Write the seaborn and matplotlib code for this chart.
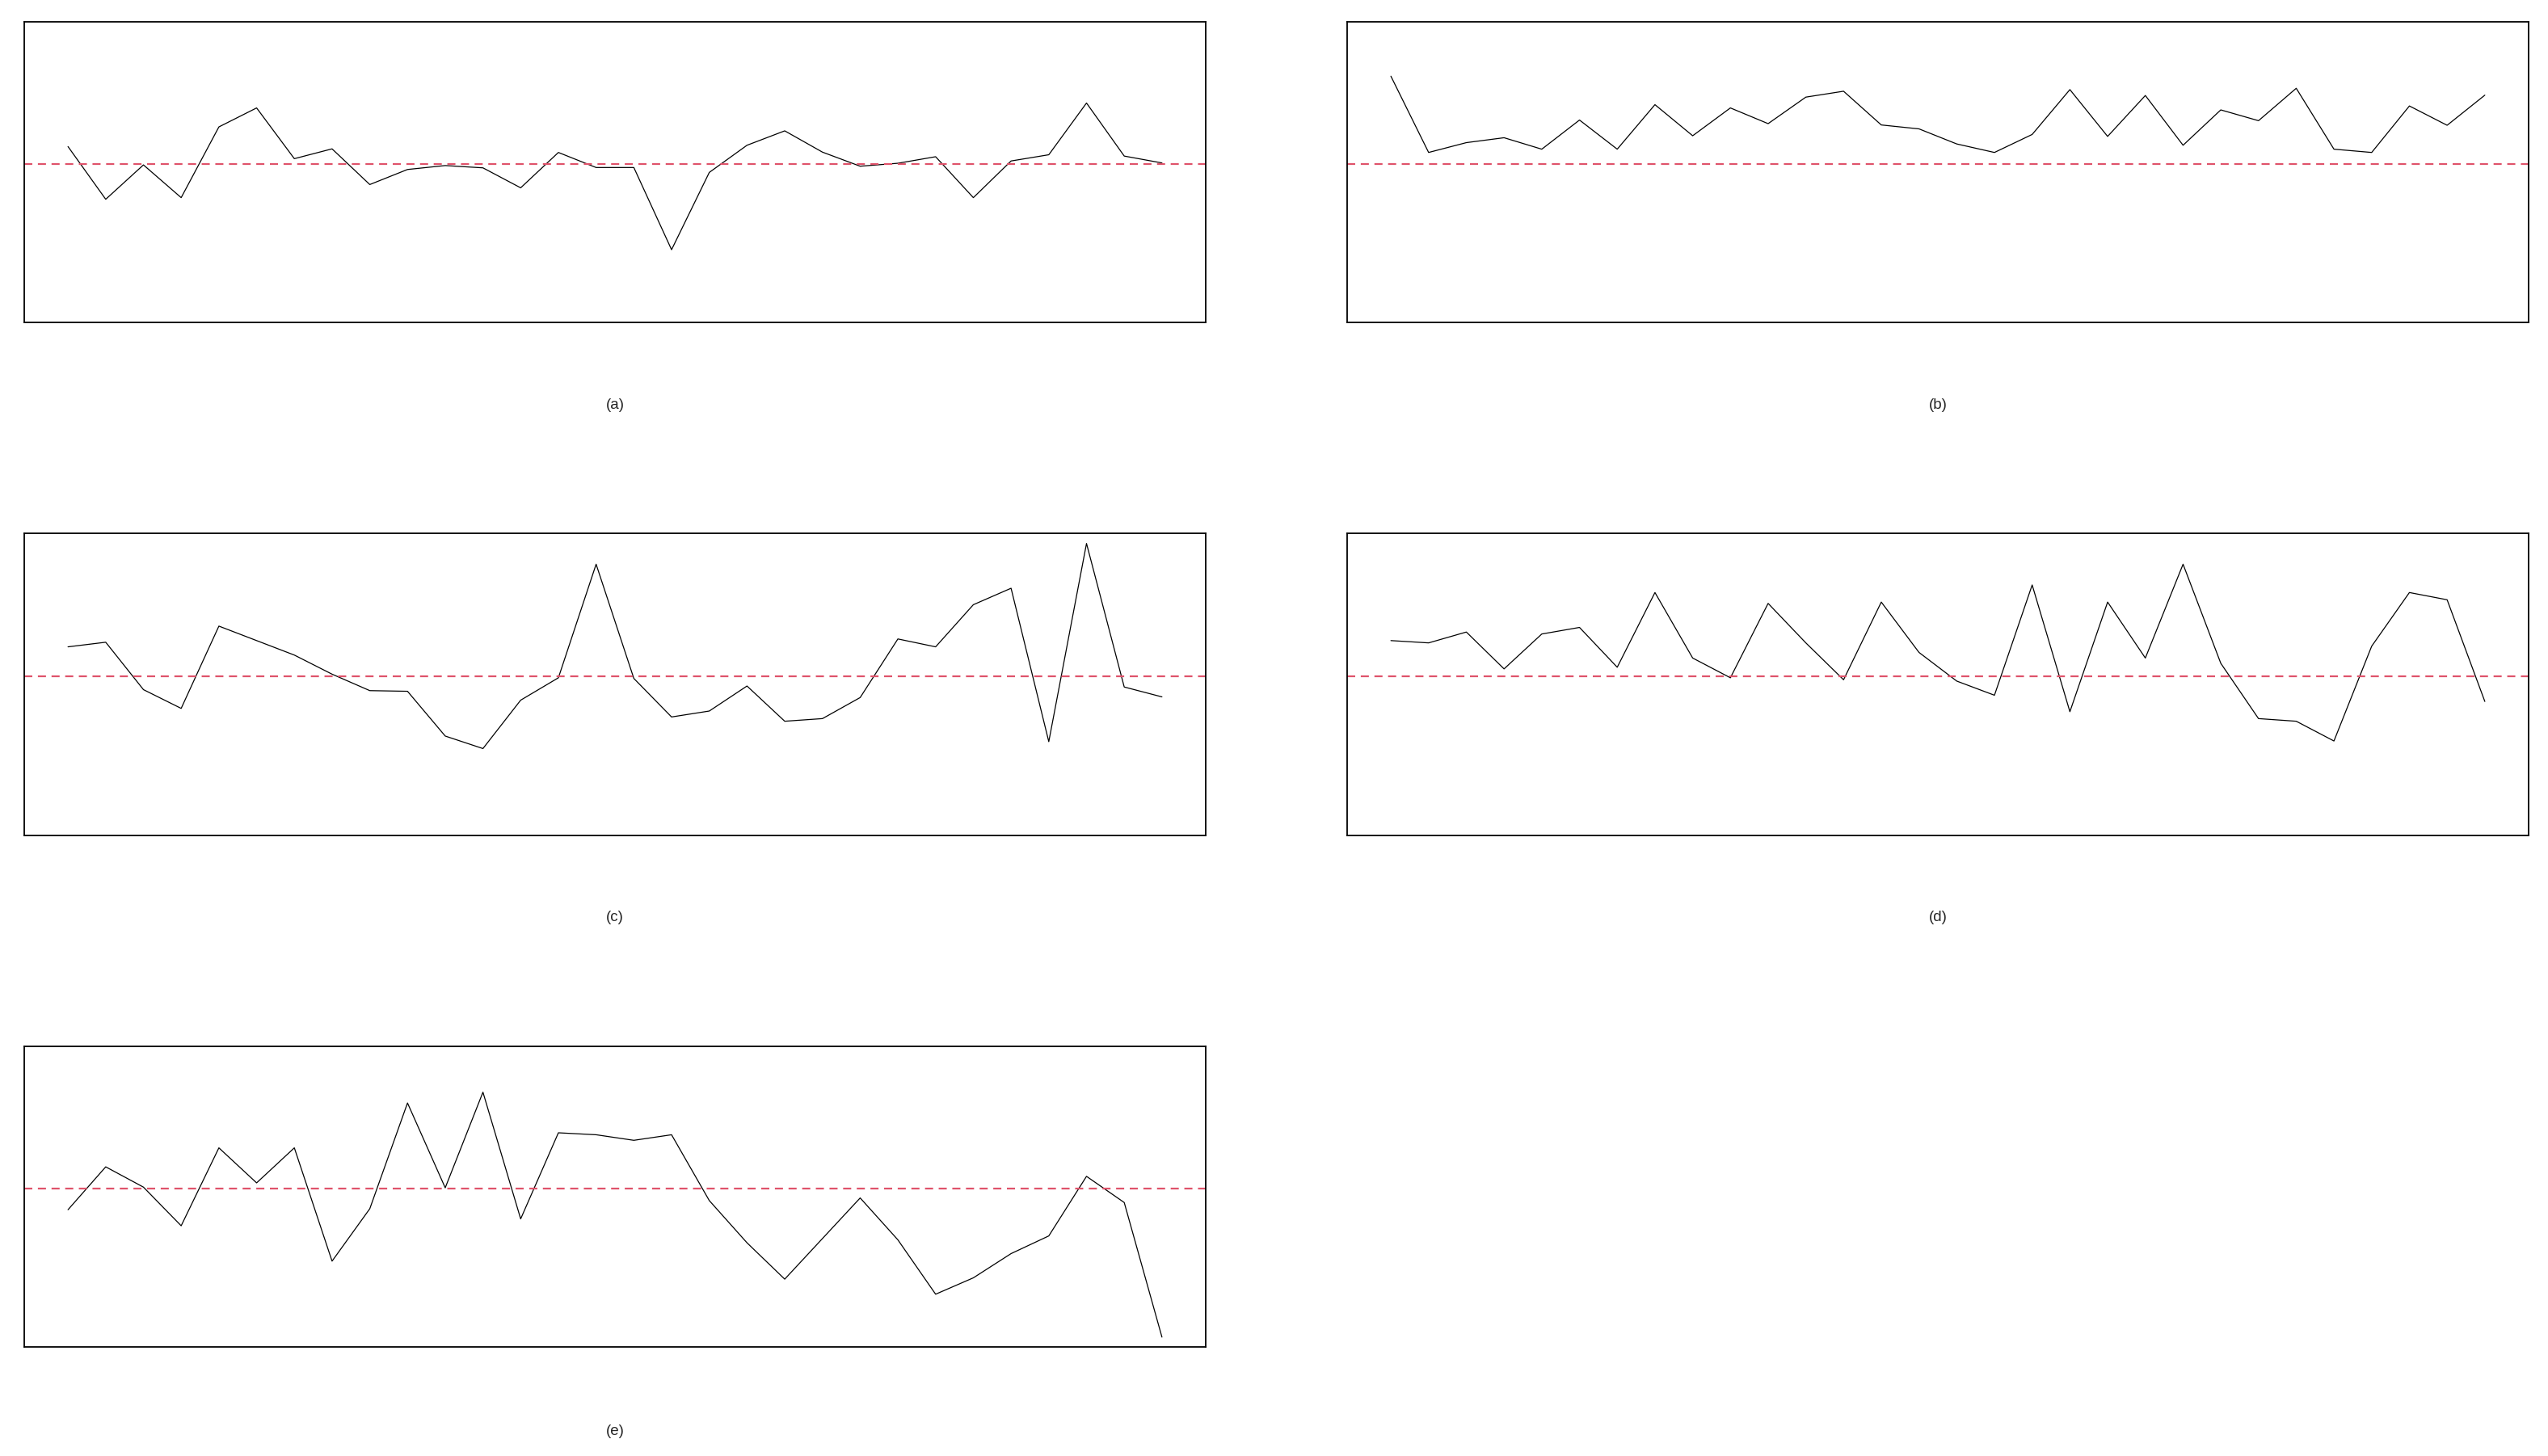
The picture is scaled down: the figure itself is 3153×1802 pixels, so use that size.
import numpy as np
import pandas as pd
import matplotlib
matplotlib.use("Agg")
import matplotlib.pyplot as plt
import seaborn as sns

sns.set_style("white")

x_index = list(range(1, 31))
panel_labels = ["(a)", "(b)", "(c)", "(d)", "(e)"]

series_a = [0.53, -1.08, -0.03, -1.03, 1.13, 1.71, 0.16, 0.46, -0.63, -0.17,
            -0.05, -0.12, -0.73, 0.35, -0.11, -0.11, -2.62, -0.26, 0.57, 1.01,
            0.36, -0.07, 0.02, 0.22, -1.03, 0.09, 0.28, 1.86, 0.24, 0.03]
series_b = [2.68, 0.35, 0.65, 0.80, 0.45, 1.34, 0.45, 1.81, 0.86, 1.71,
            1.23, 2.04, 2.22, 1.19, 1.07, 0.61, 0.35, 0.90, 2.27, 0.84,
            2.09, 0.57, 1.65, 1.32, 2.31, 0.45, 0.35, 1.77, 1.18, 2.10]
series_c = [0.89, 1.03, -0.41, -0.98, 1.52, 1.08, 0.64, 0.06, -0.44, -0.46,
            -1.82, -2.20, -0.73, -0.05, 3.40, -0.07, -1.24, -1.06, -0.30, -1.37,
            -1.29, -0.65, 1.13, 0.89, 2.17, 2.67, -1.99, 4.03, -0.33, -0.63]
series_d = [1.08, 1.01, 1.34, 0.22, 1.28, 1.48, 0.27, 2.54, 0.55, -0.05,
            2.21, 1.01, -0.11, 2.25, 0.72, -0.15, -0.58, 2.77, -1.08, 2.25,
            0.55, 3.40, 0.39, -1.29, -1.37, -1.97, 0.91, 2.54, 2.32, -0.77]
series_e = [-0.65, 0.66, 0.04, -1.14, 1.24, 0.17, 1.24, -2.22, -0.62, 2.61,
            0.02, 2.94, -0.93, 1.70, 1.64, 1.47, 1.64, -0.37, -1.66, -2.77,
            -1.53, -0.29, -1.57, -3.23, -2.73, -1.99, -1.45, 0.37, -0.43, -4.54]
reference_level = 0.0

all_series = [series_a, series_b, series_c, series_d, series_e]

W, H = 3153, 1802
fig = plt.figure(figsize=(W / 100, H / 100), dpi=100)

cols = [(30, 1492), (1667, 3129)]
rows = [(27, 399), (660, 1034), (1295, 1667)]
label_y = [502, 1136, 1771]

for k, (vals, lab) in enumerate(zip(all_series, panel_labels)):
    r, c = divmod(k, 2)
    x0, x1 = cols[c]
    y0, y1 = rows[r]
    ax = fig.add_axes([x0 / W, 1 - y1 / H, (x1 - x0) / W, (y1 - y0) / H])
    df = pd.DataFrame({"t": x_index, "v": vals})
    sns.lineplot(data=df, x="t", y="v", ax=ax, color="black", linewidth=0.9)
    ax.axhline(reference_level, color="#DF536B", linestyle=(0, (4.5, 3.1)), linewidth=1.6)
    ax.set_xlim(1 - 0.04 * 29, 30 + 0.04 * 29)
    ax.set_ylim(-4.84, 4.34)
    ax.set_xticks([])
    ax.set_yticks([])
    ax.set_xlabel("")
    ax.set_ylabel("")
    for s in ax.spines.values():
        s.set_visible(True)
        s.set_color("black")
        s.set_linewidth(1.3)
    fig.text(((x0 + x1) / 2) / W, 1 - label_y[r] / H, lab, ha="center", va="center",
             fontsize=13.5, family=["Liberation Sans", "DejaVu Sans"])

fig.savefig("out.png", dpi=100, facecolor="white")
